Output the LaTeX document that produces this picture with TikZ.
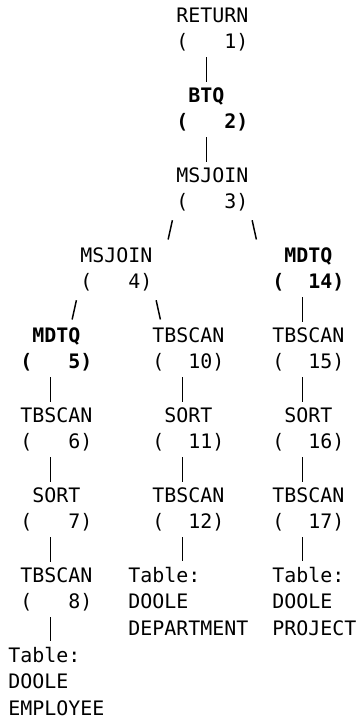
\documentclass[tikz,border=0pt]{standalone}
\usepackage{fontspec}
\usepackage{tikz}
\newfontfamily\planfam{DejaVu Sans Mono}
\newcommand{\planfont}{\planfam\fontsize{14.95pt}{20pt}\selectfont}
\newcommand{\bl}{\hphantom{0}}

\begin{document}
\begin{tikzpicture}[x=9pt,y=20pt,
  op/.style={anchor=base west,inner sep=0pt,align=left,font=\planfont},
  hot/.style={op,font=\planfont\bfseries},
  pipe/.style={line width=1.1pt,shorten <=4pt,shorten >=4pt},
  slash/.style={line width=1.1pt}]
\useasboundingbox (-6pt,16.7pt) rectangle (260.25pt,-522.55pt);
\node[op] (ret1) at (14,-1) {RETURN\\(\bl\bl\bl1)};
\node[hot] (btq2) at (14,-4) {\bl BTQ\\(\bl\bl\bl2)};
\node[op] (msjoin3) at (14,-7) {MSJOIN\\(\bl\bl\bl3)};
\node[op] (msjoin4) at (6,-10) {MSJOIN\\(\bl\bl\bl4)};
\node[hot] (mdtq14) at (22,-10) {\bl MDTQ\\(\bl\bl14)};
\node[hot] (mdtq5) at (1,-13) {\bl MDTQ\\(\bl\bl\bl5)};
\node[op] (tbscan10) at (12,-13) {TBSCAN\\(\bl\bl10)};
\node[op] (tbscan15) at (22,-13) {TBSCAN\\(\bl\bl15)};
\node[op] (tbscan6) at (1,-16) {TBSCAN\\(\bl\bl\bl6)};
\node[op] (sort11) at (12,-16) {\bl SORT\\(\bl\bl11)};
\node[op] (sort16) at (22,-16) {\bl SORT\\(\bl\bl16)};
\node[op] (sort7) at (1,-19) {\bl SORT\\(\bl\bl\bl7)};
\node[op] (tbscan12) at (12,-19) {TBSCAN\\(\bl\bl12)};
\node[op] (tbscan17) at (22,-19) {TBSCAN\\(\bl\bl17)};
\node[op] (tbscan8) at (1,-22) {TBSCAN\\(\bl\bl\bl8)};
\node[op] (tabDept) at (10,-23) {Table:\\DOOLE\\DEPARTMENT};
\node[op] (tabProj) at (22,-23) {Table:\\DOOLE\\PROJECT};
\node[op] (tabEmp) at (0,-26) {Table:\\DOOLE\\EMPLOYEE};
\draw[pipe] ([xshift=-4.5pt]ret1.south) -- ([xshift=-4.5pt]btq2.north);
\draw[pipe] ([xshift=-4.5pt]btq2.south) -- ([xshift=-4.5pt]btq2.south |- msjoin3.north);
\draw[slash] ([shift={(-2.7pt,-6.3pt)}]msjoin3.south west) -- ([shift={(11.7pt,5.8pt)}]msjoin4.north east);
\draw[slash] ([shift={(2.7pt,-6.3pt)}]msjoin3.south east) -- ([shift={(-11.7pt,5.8pt)}]mdtq14.north west);
\draw[slash] ([shift={(-2.7pt,-6.3pt)}]msjoin4.south west) -- ([shift={(-15.3pt,5.8pt)}]mdtq5.north east);
\draw[slash] ([shift={(2.7pt,-6.3pt)}]msjoin4.south east) -- ([shift={(6.3pt,5.8pt)}]tbscan10.north west);
\draw[pipe] ([xshift=-4.5pt]mdtq14.south) -- ([xshift=-4.5pt]mdtq14.south |- tbscan15.north);
\draw[pipe] ([xshift=-4.5pt]mdtq5.south) -- ([xshift=-4.5pt]mdtq5.south |- tbscan6.north);
\draw[pipe] ([xshift=-4.5pt]tbscan6.south) -- ([xshift=-4.5pt]tbscan6.south |- sort7.north);
\draw[pipe] ([xshift=-4.5pt]sort7.south) -- ([xshift=-4.5pt]sort7.south |- tbscan8.north);
\draw[pipe] ([xshift=-4.5pt]tbscan8.south) -- ([xshift=-4.5pt]tbscan8.south |- tabEmp.north);
\draw[pipe] ([xshift=-4.5pt]tbscan10.south) -- ([xshift=-4.5pt]tbscan10.south |- sort11.north);
\draw[pipe] ([xshift=-4.5pt]sort11.south) -- ([xshift=-4.5pt]sort11.south |- tbscan12.north);
\draw[pipe] ([xshift=-4.5pt]tbscan12.south) -- ([xshift=-4.5pt]tbscan12.south |- tabDept.north);
\draw[pipe] ([xshift=-4.5pt]tbscan15.south) -- ([xshift=-4.5pt]tbscan15.south |- sort16.north);
\draw[pipe] ([xshift=-4.5pt]sort16.south) -- ([xshift=-4.5pt]sort16.south |- tbscan17.north);
\draw[pipe] ([xshift=-4.5pt]tbscan17.south) -- ([xshift=-4.5pt]tbscan17.south |- tabProj.north);
\end{tikzpicture}
\end{document}
